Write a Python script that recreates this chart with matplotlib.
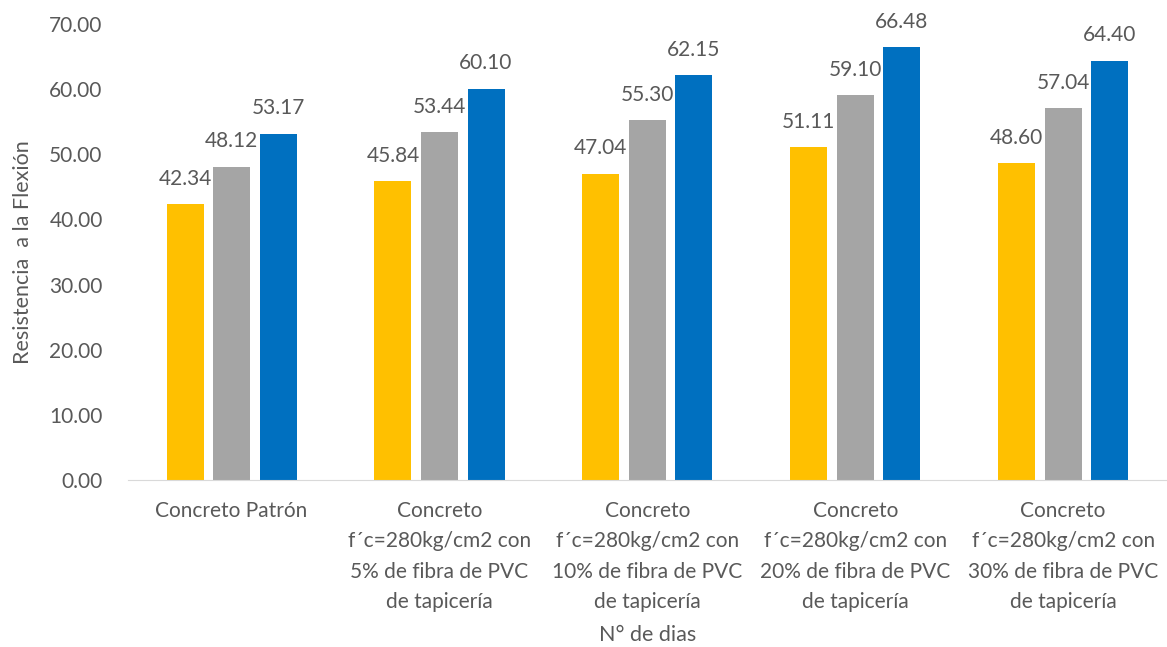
import matplotlib.pyplot as plt
import numpy as np

plt.rcParams['font.family'] = ['Lato', 'DejaVu Sans']

categorias = ['Concreto Patrón',
              'Concreto\nf´c=280kg/cm2 con\n5% de fibra de PVC\nde tapicería',
              'Concreto\nf´c=280kg/cm2 con\n10% de fibra de PVC\nde tapicería',
              'Concreto\nf´c=280kg/cm2 con\n20% de fibra de PVC\nde tapicería',
              'Concreto\nf´c=280kg/cm2 con\n30% de fibra de PVC\nde tapicería']
serie_a = [42.34, 45.84, 47.04, 51.11, 48.60]
serie_b = [48.12, 53.44, 55.30, 59.10, 57.04]
serie_c = [53.17, 60.10, 62.15, 66.48, 64.40]
colores = ['#FFC000', '#A5A5A5', '#0070C0']
gris = '#595959'

fig = plt.figure(figsize=(11.67, 6.47), dpi=100)
ax = fig.add_axes([0.1094, 0.258, 0.8906, 0.7048])

x = np.arange(len(categorias))
w = 0.178
paso = 0.224
for i, (vals, col) in enumerate(zip([serie_a, serie_b, serie_c], colores)):
    pos = x + (i - 1) * paso
    ax.bar(pos, vals, width=w, color=col)
    for p, v in zip(pos, vals):
        ax.annotate(f'{v:.2f}', (p, v), xytext=(0, 11), textcoords='offset points',
                    ha='center', va='bottom', fontsize=15, color=gris)

ax.set_xlim(-0.5, len(categorias) - 0.5)
ax.set_ylim(0, 70)
ax.set_yticks(np.arange(0, 71, 10))
ax.set_yticklabels([f'{t:.2f}' for t in np.arange(0, 71, 10)])
ax.set_xticks(x)
ax.set_xticklabels(categorias, linespacing=1.65)
ax.tick_params(axis='both', length=0, labelsize=15, labelcolor=gris)
ax.tick_params(axis='x', pad=15)
ax.tick_params(axis='y', pad=18)
for s in ['top', 'right', 'left']:
    ax.spines[s].set_visible(False)
ax.spines['bottom'].set_color('#D9D9D9')

ax.set_ylabel('Resistencia  a la Flexión', fontsize=15.5, color=gris, labelpad=12)
ax.set_xlabel('N° de dias', fontsize=15.5, color=gris)
ax.xaxis.set_label_coords(0.5, -0.317)

fig.savefig('out.png', dpi=100)
